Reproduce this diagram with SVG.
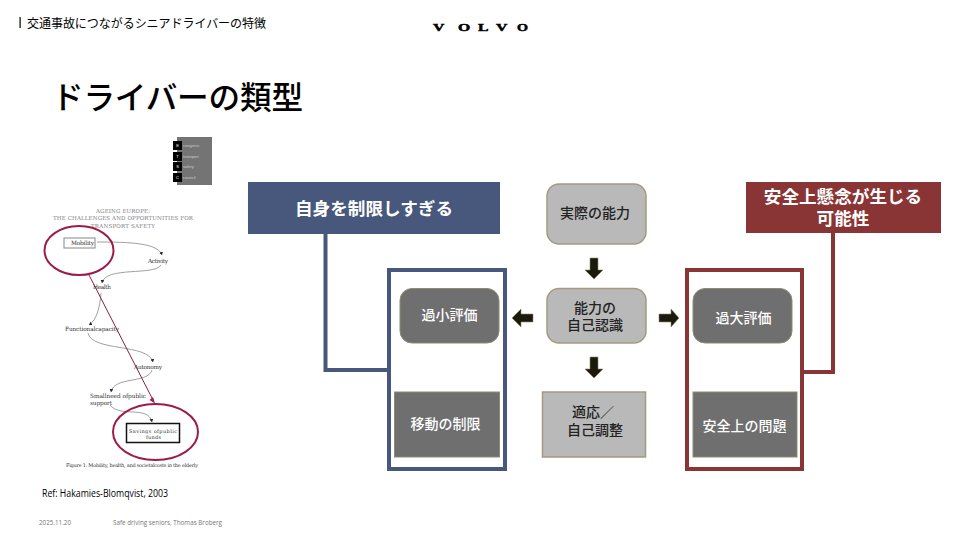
<svg xmlns="http://www.w3.org/2000/svg" width="960" height="540" viewBox="0 0 960 540">
<defs>
<marker id="tip" markerUnits="userSpaceOnUse" markerWidth="4" markerHeight="4" refX="3" refY="2" orient="auto"><path d="M0 0L3 2L0 4Z" fill="#222"/></marker>
</defs>
<style>
text{font-family:"Liberation Sans","Noto Sans CJK JP",sans-serif}
.lab{font-size:14px;fill:#fff;font-weight:500;text-anchor:middle}
.dk{font-size:14px;fill:#222;font-weight:500;text-anchor:middle}
.ban{font-size:17.6px;font-weight:700;fill:#fff;text-anchor:middle}
.box{fill:#b9b9b9;stroke:#a39a80;stroke-width:1.5}
.gr{fill:#6f6f6f;stroke:#8f8a74;stroke-width:1}
.m{font-family:"DejaVu Serif","Liberation Serif",serif;font-size:5.8px;fill:#333}
.t{font-size:5.5px;fill:#808080;font-weight:400}
.ic{font-size:4px;fill:#ccc}
.icb{font-size:4px;fill:#fff;text-anchor:middle}
.ar{fill:#1c1a0c;stroke:#8f8a68;stroke-width:.6}
.cv{fill:none;stroke:#777;stroke-width:.7;marker-end:url(#tip)}
.v{font-family:"Liberation Serif",serif;font-size:10.5px;font-weight:700;fill:#000;stroke:#000;stroke-width:.5}
.foot{font-family:"Open Sans",sans-serif;font-size:6.5px;fill:#777}
</style>
<rect width="960" height="540" fill="#fff"/>
<rect x="19.500" y="17" width="1.2" height="11" fill="#000"/>
<text x="27" y="27.500" font-size="12" fill="#000" textLength="239">交通事故につながるシニアドライバーの特徴</text>
<g id="logo">
<text class="v" transform="translate(433 31) scale(1.5 1)">V</text>
<text class="v" transform="translate(458 31) scale(1.5 1)">O</text>
<text class="v" transform="translate(478 31) scale(1.5 1)">L</text>
<text class="v" transform="translate(496 31) scale(1.5 1)">V</text>
<text class="v" transform="translate(517 31) scale(1.35 1)">O</text>
</g>
<text x="52" y="109" font-size="31.600" fill="#000" font-weight="500" textLength="251">ドライバーの類型</text>

<g id="figure">
<rect x="177" y="137" width="35" height="48" fill="#747474"/>
<g fill="#000"><rect x="173" y="141" width="9" height="9"/><rect x="173" y="152" width="9" height="9"/><rect x="173" y="162" width="9" height="9"/><rect x="173" y="173" width="9" height="9"/></g>
<text class="icb" x="177.500" y="147">E</text><text class="icb" x="177.500" y="158">T</text><text class="icb" x="177.500" y="168">S</text><text class="icb" x="177.500" y="179">C</text>
<text class="ic" x="183" y="147">congress</text><text class="ic" x="183" y="158">transport</text><text class="ic" x="183" y="168">safety</text><text class="ic" x="183" y="179">council</text>
<text class="m t" x="96" y="213" textLength="54">AGEING EUROPE:</text>
<text class="m t" x="53" y="220" textLength="140">THE CHALLENGES AND OPPORTUNITIES FOR</text>
<text class="m t" x="91" y="228" textLength="64">TRANSPORT SAFETY</text>
<rect x="64" y="238" width="31" height="10" fill="#fff" stroke="#888"/>
<text class="m" x="71" y="245" textLength="23">Mobility</text>
<text class="m" x="148" y="263" textLength="20">Activity</text>
<text class="m" x="93" y="289" textLength="18">Health</text>
<text class="m" x="65" y="331" textLength="54">Functionalcapacity</text>
<text class="m" x="134" y="369" textLength="28">Autonomy</text>
<text class="m" x="90" y="398" textLength="56">Smallneed ofpublic</text>
<text class="m" x="90" y="405" textLength="22">support</text>
<rect x="126.500" y="423.500" width="53" height="19" fill="#fff" stroke="#111" stroke-width="1.500"/>
<text class="m" x="129" y="432.500" textLength="48" style="font-size:5px">Savings ofpublic</text>
<text class="m" x="146" y="439" textLength="15" style="font-size:5px">funds</text>
<text x="66" y="467" font-size="5" fill="#333" textLength="132" style="font-family:'DejaVu Serif',serif">Figure 1. Mobility, health, and societalcosts in the elderly</text>
<path class="cv" d="M97 242C130 242 158 243 162 255"/>
<path class="cv" d="M161 265C155 276 105 266 102 283"/>
<path class="cv" d="M101 293C100 306 97 320 89 325"/>
<path class="cv" d="M88 333C92 352 148 343 153 362"/>
<path class="cv" d="M152 370C148 384 114 376 111 392"/>
<path class="cv" d="M110 405C120 418 148 405 152 422"/>
</g>
<ellipse cx="79" cy="250.500" rx="34.500" ry="24.500" fill="none" stroke="#9b1c4b" stroke-width="2"/>
<ellipse cx="155.500" cy="432" rx="42.500" ry="28" fill="none" stroke="#9b1c4b" stroke-width="2"/>
<path d="M89 275L153 400" stroke="#8a2040" stroke-width="1" fill="none"/>
<path d="M155 403.500L149.500 400L153 397Z" fill="#9b1c4b"/>
<text x="42" y="497" font-size="10.500" fill="#000" textLength="126" lengthAdjust="spacingAndGlyphs" style="font-family:'Open Sans',sans-serif">Ref: Hakamies-Blomqvist, 2003</text>
<text class="foot" x="39" y="525" textLength="32" lengthAdjust="spacingAndGlyphs">2025.11.20</text>
<text class="foot" x="113" y="525" textLength="109" lengthAdjust="spacingAndGlyphs">Safe driving seniors, Thomas Broberg</text>

<g id="connectors">
<path d="M325.500 234V370H389" fill="none" stroke="#47587c" stroke-width="4"/>
<path d="M833 233V372H802" fill="none" stroke="#8a3535" stroke-width="4"/>
<path class="ar" d="M590 258H598V270H603L594 279L585 270H590Z"/>
<path class="ar" d="M590 357H598V369H603L594 378L585 369H590Z"/>
<path class="ar" d="M443 357H451V369H456L447 378L438 369H443Z"/>
<path class="ar" d="M740 357H748V369H753L744 378L735 369H740Z"/>
<path class="ar" d="M533 314V322H521V327L512 318L521 309V314Z"/>
<path class="ar" d="M659 314V322H671V327L679 318L671 309V314Z"/>
</g>
<g id="blue-banner"><rect x="248" y="182" width="252" height="52" fill="#47587c"/><text class="ban" x="374" y="214.500">自身を制限しすぎる</text></g>
<g id="red-banner"><rect x="746" y="182" width="195" height="51" fill="#8a3535"/><text class="ban" x="843" y="203">安全上懸念が生じる</text><text class="ban" x="843" y="224.500">可能性</text></g>
<g id="blue-frame"><rect x="389" y="270" width="116" height="199" fill="#fff" stroke="#47587c" stroke-width="4"/></g>
<g id="red-frame"><rect x="687" y="270" width="115" height="199" fill="#fff" stroke="#8a3535" stroke-width="4"/></g>
<g id="actual"><rect class="box" x="547" y="184" width="99" height="60" rx="12"/><text class="dk" x="595" y="218">実際の能力</text></g>
<g id="self"><rect class="box" x="547" y="288.500" width="99" height="54.500" rx="12"/><text class="dk" x="595" y="313">能力の</text><text class="dk" x="595" y="330">自己認識</text></g>
<g id="adapt"><rect class="box" x="542.500" y="392" width="103" height="65"/><text class="dk" x="593" y="417">適応／</text><text class="dk" x="595" y="435">自己調整</text></g>
<g id="under"><rect class="gr" x="400" y="288.500" width="99" height="54.500" rx="12"/><text class="lab" x="449.500" y="320">過小評価</text></g>
<g id="limit"><rect class="gr" x="394.500" y="392" width="105" height="65"/><text class="lab" x="445.500" y="429">移動の制限</text></g>
<g id="over"><rect class="gr" x="693" y="288.500" width="99" height="54.500" rx="12"/><text class="lab" x="743.500" y="323">過大評価</text></g>
<g id="safety"><rect class="gr" x="693" y="392" width="104" height="65"/><text class="lab" x="744.500" y="431">安全上の問題</text></g>
</svg>
